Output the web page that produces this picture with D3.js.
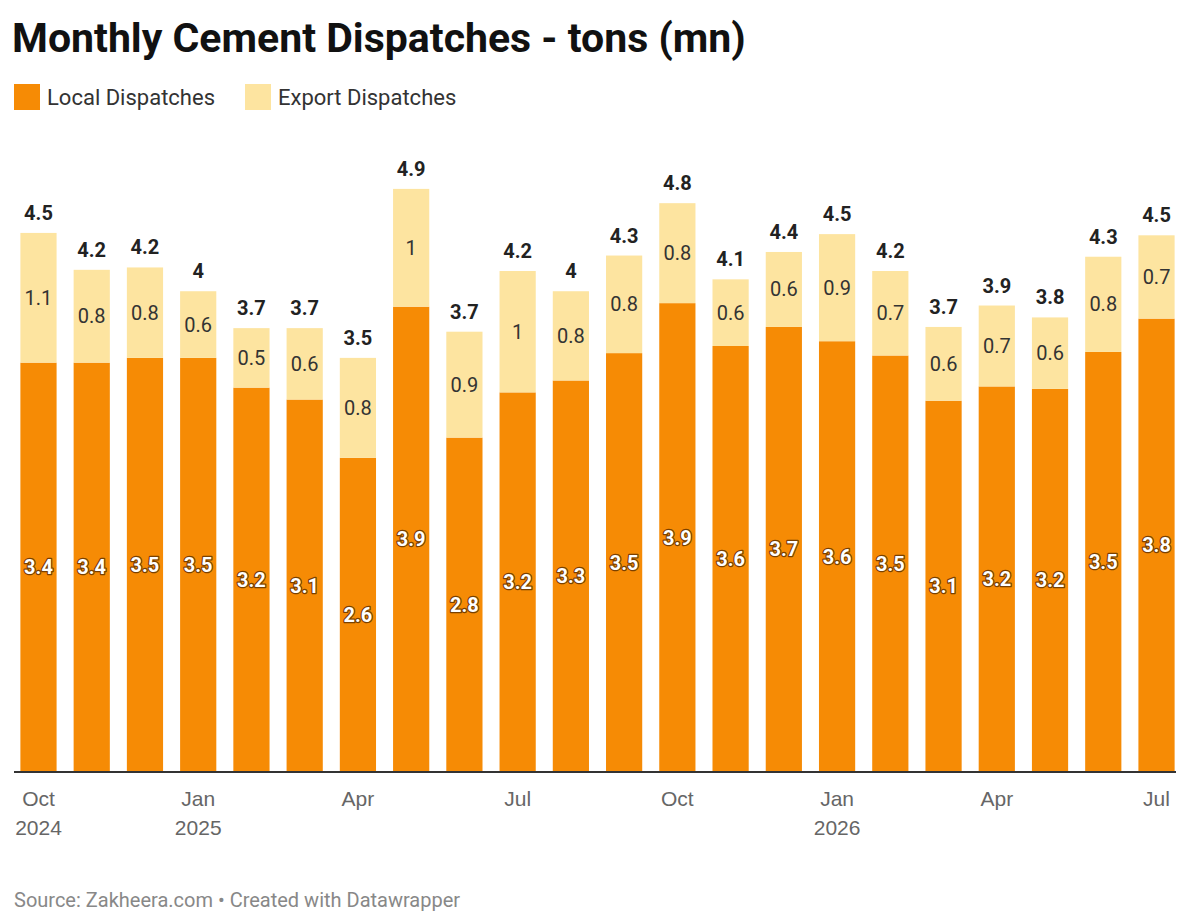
<!DOCTYPE html>
<html>
<head>
<meta charset="utf-8">
<script src="https://cdn.jsdelivr.net/npm/d3@7"></script>
<style>
  body { margin: 0; background: #fff; font-family: Roboto, "Noto Sans", sans-serif; }
  .title { font-size: 41px; font-weight: 700; fill: #111; }
  .legend text { font-size: 22px; fill: #333; }
  .inLabel { font-size: 20px; font-weight: 700; fill: #fff; paint-order: stroke; stroke: #7a4000; stroke-width: 2.5px; stroke-linejoin: round; }
  .exLabel { font-size: 20px; fill: #333; }
  .totLabel { font-size: 20px; font-weight: 700; fill: #222; }
  .source { font-size: 20px; fill: #888; }
</style>
</head>
<body>
<script>
(function (){

    //data
    var months = ["Oct 2024","Nov 2024","Dec 2024","Jan 2025","Feb 2025","Mar 2025","Apr 2025","May 2025","Jun 2025","Jul 2025","Aug 2025","Sep 2025",
                  "Oct 2025","Nov 2025","Dec 2025","Jan 2026","Feb 2026","Mar 2026","Apr 2026","May 2026","Jun 2026","Jul 2026"];
    var localValues = [3.44,3.44,3.48,3.48,3.23,3.13,2.64,3.91,2.81,3.19,3.29,3.52,3.94,3.58,3.74,3.62,3.50,3.12,3.24,3.22,3.53,3.81];
    var exportValues = [1.09,0.78,0.76,0.56,0.50,0.60,0.84,0.99,0.89,1.02,0.75,0.82,0.84,0.56,0.63,0.90,0.71,0.62,0.68,0.60,0.80,0.70];
    var tickMonths = ["Oct 2024","Jan 2025","Apr 2025","Jul 2025","Oct 2025","Jan 2026","Apr 2026","Jul 2026"];
    var tickLabels = [["Oct","2024"],["Jan","2025"],["Apr",""],["Jul",""],["Oct",""],["Jan","2026"],["Apr",""],["Jul",""]];

    var localColor = "#f68b05", exportColor = "#fde4a0";

    var width = 1200, height = 923;
    var svg = d3.select("body").append("svg").attr("width", width).attr("height", height);

    //title
    svg.append("text").attr("class", "title").attr("x", 12).attr("y", 52).text("Monthly Cement Dispatches - tons (mn)");

    //legend
    var legend = svg.append("g").attr("class", "legend");
    [["Local Dispatches", localColor, 14], ["Export Dispatches", exportColor, 245]].forEach(function(l){
        legend.append("rect").attr("x", l[2]).attr("y", 84).attr("width", 26).attr("height", 26).attr("fill", l[1]);
        legend.append("text").attr("x", l[2] + 33).attr("y", 105).text(l[0]);
    });

    //scales
    var x = d3.scaleBand().domain(months).range([14, 1181]).paddingInner(0.32).paddingOuter(0.12);
    var y = d3.scaleLinear().domain([0, 5]).range([772, 177]);

    var fmt = function(v){ return d3.format(".1f")(v).replace(/\.0$/, ""); };

    var groups = svg.selectAll(".bar").data(months).enter().append("g").attr("class", "bar");

    groups.append("rect")
        .attr("x", function(d){ return x(d); })
        .attr("width", x.bandwidth())
        .attr("y", function(d, i){ return y(localValues[i]); })
        .attr("height", function(d, i){ return y(0) - y(localValues[i]); })
        .attr("fill", localColor);

    groups.append("rect")
        .attr("x", function(d){ return x(d); })
        .attr("width", x.bandwidth())
        .attr("y", function(d, i){ return y(localValues[i] + exportValues[i]); })
        .attr("height", function(d, i){ return y(localValues[i]) - y(localValues[i] + exportValues[i]); })
        .attr("fill", exportColor);

    var cx = function(d){ return x(d) + x.bandwidth() / 2; };

    groups.append("text").attr("class", "inLabel").attr("text-anchor", "middle")
        .attr("x", cx)
        .attr("y", function(d, i){ return (y(0) + y(localValues[i])) / 2 + 7; })
        .text(function(d, i){ return fmt(localValues[i]); });

    groups.append("text").attr("class", "exLabel").attr("text-anchor", "middle")
        .attr("x", cx)
        .attr("y", function(d, i){ return (y(localValues[i]) + y(localValues[i] + exportValues[i])) / 2 + 7; })
        .text(function(d, i){ return fmt(exportValues[i]); });

    groups.append("text").attr("class", "totLabel").attr("text-anchor", "middle")
        .attr("x", cx)
        .attr("y", function(d, i){ return y(localValues[i] + exportValues[i]) - 13; })
        .text(function(d, i){ return fmt(localValues[i] + exportValues[i]); });

    //x axis
    var axis = svg.append("g").attr("transform", "translate(0,772)")
        .call(d3.axisBottom(x).tickValues(tickMonths).tickSize(0).tickFormat(""));
    axis.select(".domain").attr("stroke", "#333").attr("stroke-width", 2).attr("d", "M14,0H1176");
    axis.selectAll(".tick").each(function(d){
        var idx = tickMonths.indexOf(d);
        var t = d3.select(this).append("text").attr("fill", "#666").attr("text-anchor", "middle")
            .style("font-size", "21px");
        t.append("tspan").attr("x", 0).attr("y", 34).text(tickLabels[idx][0]);
        t.append("tspan").attr("x", 0).attr("y", 63).text(tickLabels[idx][1]);
    });

    //source
    svg.append("text").attr("class", "source").attr("x", 14).attr("y", 907)
        .text("Source: Zakheera.com \u2022 Created with Datawrapper");

})();
</script>
</body>
</html>
